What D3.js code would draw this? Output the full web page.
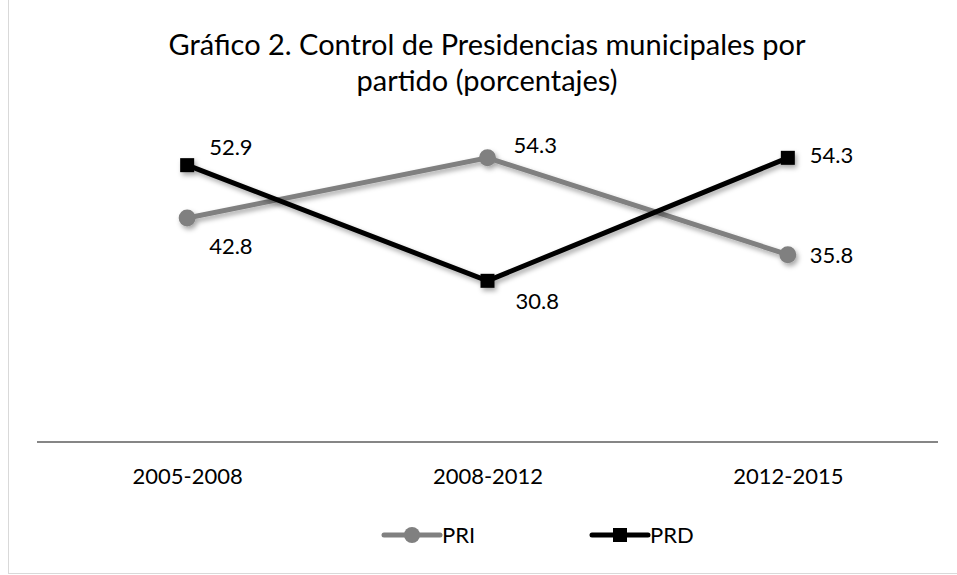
<!DOCTYPE html>
<html>
<head>
<meta charset="utf-8">
<script src="https://cdn.jsdelivr.net/npm/d3@7"></script>
<style>
  body { margin: 0; background: #fff; }
  svg { display: block; font-family: Lato, "Open Sans", sans-serif; }
</style>
</head>
<body>
<div id="chart"></div>
<script>
// chart data
var periods = ["2005-2008", "2008-2012", "2012-2015"];
var priValues = [42.8, 54.3, 35.8];
var prdValues = [52.9, 30.8, 54.3];
var titleLines = ["Gráfico 2. Control de Presidencias municipales por", "partido (porcentajes)"];

(function() {
    var width = 957, height = 575;

    var svg = d3.select("#chart").append("svg")
        .attr("width", width)
        .attr("height", height);

    // soft shadow like the office chart effect
    var defs = svg.append("defs");
    var f = defs.append("filter").attr("id", "shadow")
        .attr("x", "-20%").attr("y", "-20%").attr("width", "140%").attr("height", "160%");
    f.append("feDropShadow")
        .attr("dx", 2).attr("dy", 3).attr("stdDeviation", 2.5)
        .attr("flood-color", "#000").attr("flood-opacity", 0.35);

    // outer frame
    svg.append("rect")
        .attr("x", 8.5).attr("y", -2)
        .attr("width", width + 4).attr("height", 575.5)
        .attr("fill", "#fff").attr("stroke", "#d9d9d9");

    var x = d3.scalePoint().domain(periods).range([37, 938]).padding(0.5);
    var y = d3.scaleLinear().domain([0, 60]).range([442, 128]);

    // title
    svg.append("text")
        .attr("x", 487).attr("y", 55)
        .attr("text-anchor", "middle")
        .style("font-size", "29px").style("fill", "#000")
        .selectAll("tspan").data(titleLines).enter().append("tspan")
        .attr("x", 487)
        .attr("dy", function(d, i) { return i ? 36 : 0; })
        .text(function(d) { return d; });

    // category axis (only the base line, no ticks)
    var xAxis = svg.append("g")
        .attr("transform", "translate(0," + y(0) + ")")
        .call(d3.axisBottom(x).tickSize(0).tickPadding(26));
    xAxis.select(".domain")
        .attr("d", "M37,0H938")
        .attr("stroke", "#868686").attr("stroke-width", 2);
    xAxis.selectAll("text")
        .style("font-size", "22px").style("font-family", "Lato, sans-serif").attr("fill", "#000");

    var line = d3.line()
        .x(function(d, i) { return x(periods[i]); })
        .y(function(d) { return y(d); });

    var series = [
        { name: "PRI", values: priValues, color: "#808080", shape: "circle",
          labelDx: [22, 26, 22], labelDy: [28, -13, 1] },
        { name: "PRD", values: prdValues, color: "#000000", shape: "square",
          labelDx: [22, 28, 22], labelDy: [-18, 20, -3] }
    ];

    series.forEach(function(s) {
        var g = svg.append("g").attr("filter", "url(#shadow)");
        g.append("path")
            .datum(s.values)
            .attr("d", line)
            .attr("fill", "none")
            .attr("stroke", s.color)
            .attr("stroke-width", 5);
        if (s.shape === "circle") {
            g.selectAll("circle").data(s.values).enter().append("circle")
                .attr("cx", function(d, i) { return x(periods[i]); })
                .attr("cy", function(d) { return y(d); })
                .attr("r", 8.5)
                .attr("fill", s.color);
        } else {
            g.selectAll("rect").data(s.values).enter().append("rect")
                .attr("x", function(d, i) { return x(periods[i]) - 7; })
                .attr("y", function(d) { return y(d) - 7; })
                .attr("width", 14).attr("height", 14)
                .attr("fill", s.color);
        }
    });

    // data labels
    series.forEach(function(s) {
        svg.append("g").selectAll("text").data(s.values).enter().append("text")
            .attr("x", function(d, i) { return x(periods[i]) + s.labelDx[i]; })
            .attr("y", function(d, i) { return y(d) + s.labelDy[i]; })
            .attr("dy", "0.35em")
            .style("font-size", "22px").attr("fill", "#000")
            .text(function(d) { return d.toFixed(1); });
    });

    // legend
    var legend = svg.append("g").attr("transform", "translate(0,535)");
    var items = [
        { name: "PRI", color: "#808080", shape: "circle", x0: 384 },
        { name: "PRD", color: "#000000", shape: "square", x0: 592 }
    ];
    items.forEach(function(it) {
        var g = legend.append("g").attr("transform", "translate(" + it.x0 + ",0)");
        g.append("line").attr("x1", 0).attr("x2", 56)
            .attr("stroke", it.color).attr("stroke-width", 5).attr("stroke-linecap", "round");
        if (it.shape === "circle") {
            g.append("circle").attr("cx", 28).attr("r", 8).attr("fill", it.color);
        } else {
            g.append("rect").attr("x", 21).attr("y", -7).attr("width", 14).attr("height", 14)
                .attr("fill", it.color);
        }
        g.append("text").attr("x", 58).attr("dy", "0.35em")
            .style("font-size", "22px").attr("fill", "#000")
            .text(it.name);
    });
})();
</script>
</body>
</html>
